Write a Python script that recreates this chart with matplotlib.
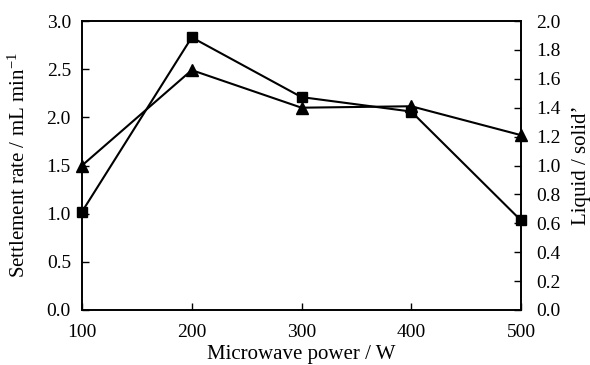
import matplotlib.pyplot as plt

plt.rcParams["font.family"] = ["Liberation Serif", "DejaVu Serif"]
plt.rcParams["mathtext.fontset"] = "stix"

power = [100, 200, 300, 400, 500]
settlementRate = [1.02, 2.83, 2.21, 2.06, 0.93]
liquidSolid = [1.00, 1.66, 1.40, 1.41, 1.21]

figure = plt.figure(figsize=(5.9, 3.65), dpi=100)
axis = figure.add_axes([82/590, 1 - 310/365, (521-82)/590, (310-21)/365])
axis2 = axis.twinx()

axis.plot(power, settlementRate, color="black", lw=1.5, marker="s", ms=7, zorder=3, clip_on=False)
axis2.plot(power, liquidSolid, color="black", lw=1.5, marker="^", ms=8.5, zorder=3, clip_on=False)

axis.set_xlim(100, 500)
axis.set_ylim(0, 3.0)
axis2.set_ylim(0, 2.0)
axis.set_xticks([100, 200, 300, 400, 500])
axis.set_yticks([0, 0.5, 1.0, 1.5, 2.0, 2.5, 3.0])
axis2.set_yticks([i * 0.2 for i in range(11)])
axis.set_yticklabels(["%.1f" % v for v in axis.get_yticks()])
axis2.set_yticklabels(["%.1f" % v for v in axis2.get_yticks()])

axis.tick_params(axis="both", direction="in", length=5, width=1, labelsize=14)
axis.tick_params(axis="y", pad=8)
axis.tick_params(axis="x", pad=10)
axis2.tick_params(axis="y", direction="in", length=5, width=1, labelsize=14, pad=11)

for ax in (axis, axis2):
    for spine in ax.spines.values():
        spine.set_linewidth(1.2)

axis.set_xlabel("Microwave power / W", fontsize=15, labelpad=3)
axis.set_ylabel("Settlement rate / mL min$^{\\mathregular{-1}}$", fontsize=15, labelpad=12)
axis2.set_ylabel("Liquid / solid\u2019", fontsize=15, labelpad=8)

figure.savefig("out.png", dpi=100)
